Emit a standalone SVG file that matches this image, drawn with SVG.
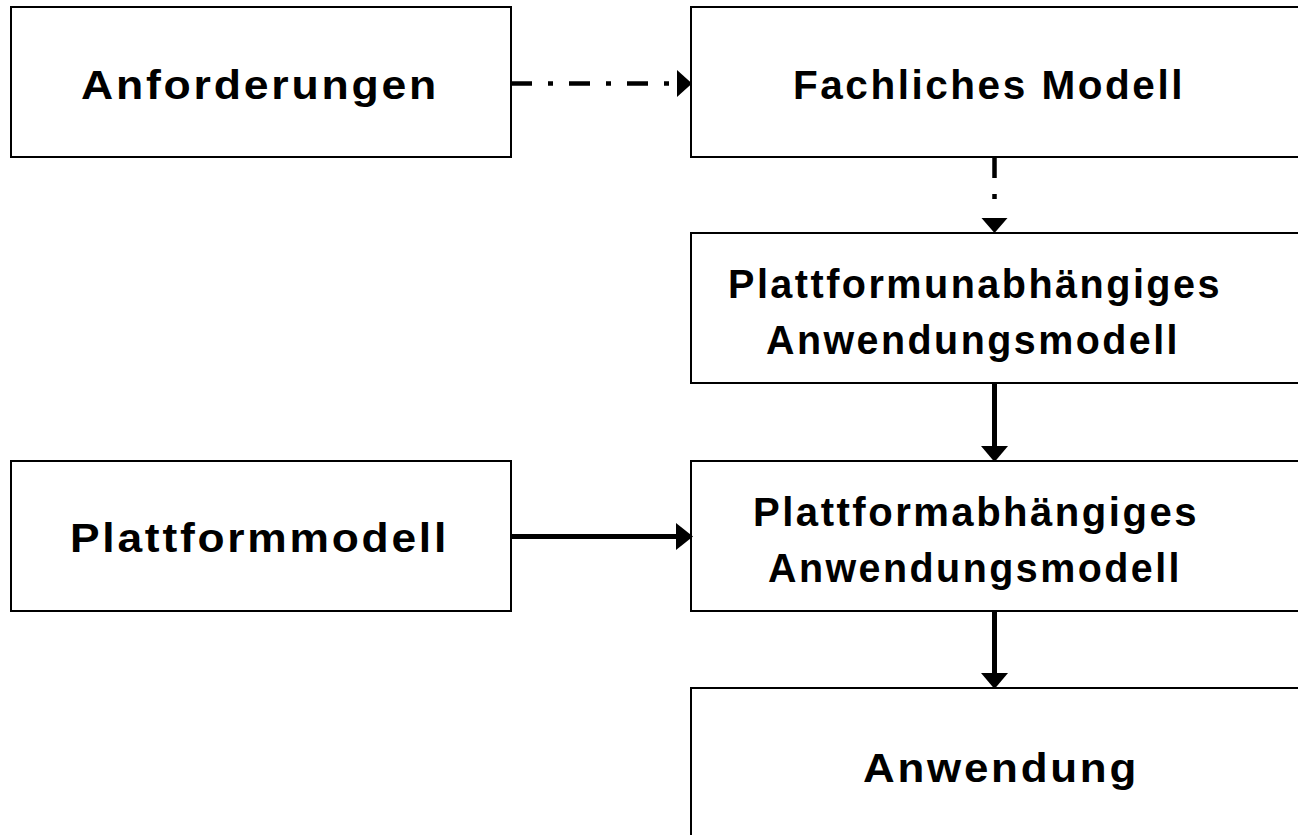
<svg xmlns="http://www.w3.org/2000/svg" width="1298" height="835" viewBox="0 0 1298 835">
<style>
.box{fill:#fff;stroke:#000;stroke-width:2}
.t{font-family:"Liberation Sans",Arial,sans-serif;font-weight:bold;font-size:40px;letter-spacing:2.5px;fill:#000}
.dd{stroke:#000;stroke-width:4.5;fill:none;stroke-dasharray:21 16 5 16}
.sl{stroke:#000;stroke-width:5;fill:none}
.ah{fill:#000}
</style>
<rect width="1298" height="835" fill="#fff"/>
<g id="anforderungen"><rect class="box" x="11" y="7" width="500" height="150"/><text class="t" x="81" y="99" textLength="358" lengthAdjust="spacingAndGlyphs">Anforderungen</text></g>
<g id="fachliches-modell"><rect class="box" x="691" y="7" width="620" height="150"/><text class="t" x="793" y="99" textLength="392" lengthAdjust="spacingAndGlyphs">Fachliches Modell</text></g>
<g id="pim"><rect class="box" x="691" y="233" width="620" height="150"/><text class="t" x="728" y="298" textLength="494" lengthAdjust="spacingAndGlyphs">Plattformunabhängiges</text><text class="t" x="766" y="354" textLength="414" lengthAdjust="spacingAndGlyphs">Anwendungsmodell</text></g>
<g id="plattformmodell"><rect class="box" x="11" y="461" width="500" height="150"/><text class="t" x="70" y="552" textLength="379" lengthAdjust="spacingAndGlyphs">Plattformmodell</text></g>
<g id="psm"><rect class="box" x="691" y="461" width="620" height="150"/><text class="t" x="753" y="526" textLength="446" lengthAdjust="spacingAndGlyphs">Plattformabhängiges</text><text class="t" x="768" y="582" textLength="414" lengthAdjust="spacingAndGlyphs">Anwendungsmodell</text></g>
<g id="anwendung"><rect class="box" x="691" y="688" width="620" height="150"/><text class="t" x="863" y="782" textLength="276" lengthAdjust="spacingAndGlyphs">Anwendung</text></g>
<g id="connectors">
<line class="dd" x1="511" y1="83.5" x2="670" y2="83.5"/>
<polygon class="ah" points="677,70 692,83.5 677,97"/>
<line class="dd" x1="994.5" y1="157" x2="994.5" y2="212"/>
<polygon class="ah" points="981.5,218 1007.5,218 994.5,233"/>
<line class="sl" x1="994.5" y1="383" x2="994.5" y2="448"/>
<polygon class="ah" points="981,446 1008,446 994.5,462"/>
<line class="sl" x1="994.5" y1="611" x2="994.5" y2="675"/>
<polygon class="ah" points="981,673 1008,673 994.5,689"/>
<line class="sl" x1="511" y1="536.5" x2="678" y2="536.5"/>
<polygon class="ah" points="676,523 693,536.5 676,550"/>
</g>
</svg>
